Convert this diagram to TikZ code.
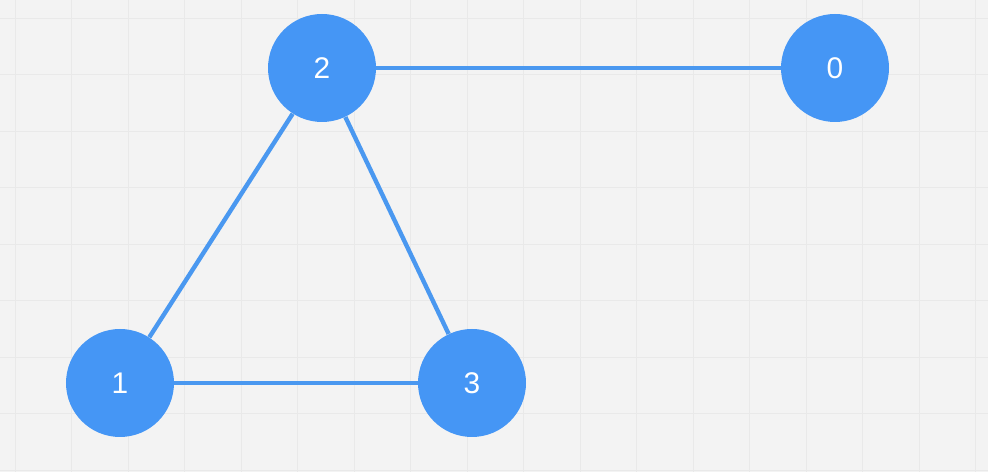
\documentclass[tikz,border=0pt]{standalone}
\usepackage{fontspec}
\setsansfont{Liberation Sans}
\definecolor{vertexblue}{RGB}{69,150,245}
\definecolor{edgeblue}{RGB}{74,152,240}
\definecolor{paper}{RGB}{243,243,243}
\definecolor{gridline}{RGB}{233,233,233}
\begin{document}
\begin{tikzpicture}[every node/.style={circle, fill=vertexblue, minimum size=2.16cm, inner sep=0pt, text=white, font=\sffamily\fontsize{17}{17}\selectfont},
    edge/.style={draw=edgeblue, line width=2.5pt}]
    \useasboundingbox (0,0) rectangle (19.76,9.44);
    % Background and grid
    \fill[paper] (0,0) rectangle (19.76,9.44);
    \begin{scope}
      \clip (0,0) rectangle (19.76,9.44);
      \foreach \k in {0,...,17} {
        \pgfmathsetmacro\x{0.3 + \k*1.13}
        \draw[gridline, line width=0.5pt] (\x,0) -- (\x,9.44);
      }
      \foreach \k in {0,...,8} {
        \pgfmathsetmacro\y{9.44 - 0.36 - \k*1.13}
        \draw[gridline, line width=0.5pt] (0,\y) -- (19.76,\y);
      }
    \end{scope}

    % Vertices
    \node (v2) at (6.44, 8.08) {2};
    \node (v0) at (16.70, 8.08) {0};
    \node (v1) at (2.40, 1.78) {1};
    \node (v3) at (9.44, 1.78) {3};

    % Edges
    \draw[edge] (v2) -- (v0);
    \draw[edge] (v2) -- (v1);
    \draw[edge] (v2) -- (v3);
    \draw[edge] (v1) -- (v3);

  \end{tikzpicture}
\end{document}
